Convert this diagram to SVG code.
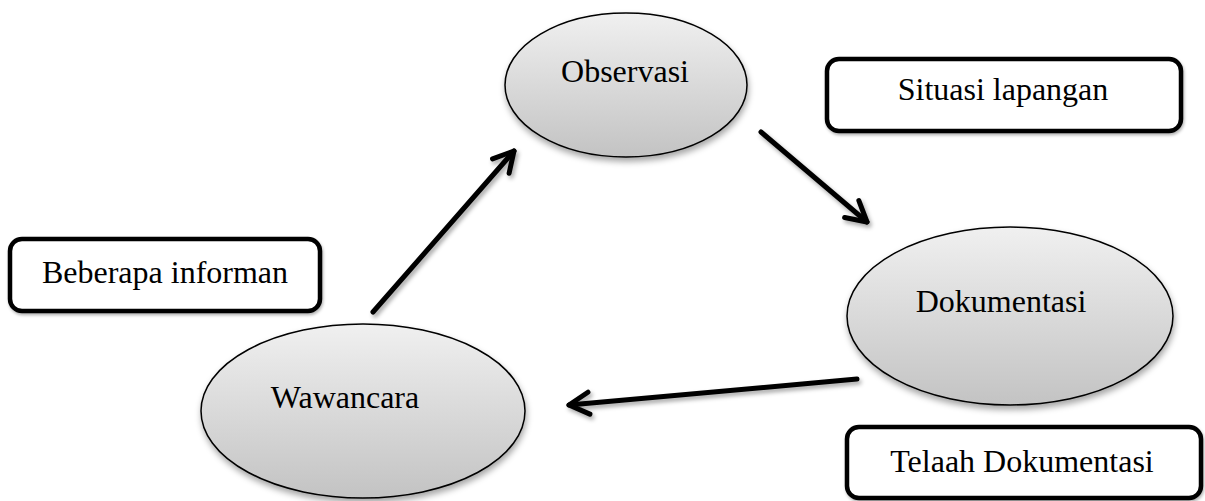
<svg xmlns="http://www.w3.org/2000/svg" width="1205" height="501" viewBox="0 0 1205 501">
  <style>
    .lbl { font-family: "Liberation Serif", "Times New Roman", serif; font-size: 32px; fill: #000; text-anchor: middle; }
    .ell { fill: url(#ellGrad); stroke: #000; stroke-width: 1.5; filter: url(#shadow); }
    .box { fill: #fff; stroke: #000; stroke-width: 4.5; filter: url(#shadowSm); }
    .conn { stroke: #000; stroke-width: 5; stroke-linecap: round; fill: none; marker-end: url(#chev); }
  </style>
  <defs>
    <linearGradient id="ellGrad" x1="0" y1="0" x2="0" y2="1">
      <stop offset="0" stop-color="#f0f0f0"/>
      <stop offset="1" stop-color="#c3c3c3"/>
    </linearGradient>
    <filter id="shadow" x="-20%" y="-20%" width="140%" height="150%">
      <feDropShadow dx="1" dy="4" stdDeviation="3" flood-color="#000" flood-opacity="0.35"/>
    </filter>
    <filter id="shadowSm" x="-10%" y="-20%" width="120%" height="150%">
      <feDropShadow dx="1" dy="2" stdDeviation="1.5" flood-color="#000" flood-opacity="0.3"/>
    </filter>
    <filter id="shadowArr" x="-20%" y="-20%" width="140%" height="140%">
      <feDropShadow dx="2" dy="3" stdDeviation="2" flood-color="#000" flood-opacity="0.35"/>
    </filter>
    <marker id="chev" markerUnits="userSpaceOnUse" viewBox="-30 -20 40 40" refX="0" refY="0" markerWidth="40" markerHeight="40" orient="auto">
      <path d="M-20,-11 L0,0 L-20,11" fill="none" stroke="#000" stroke-width="5" stroke-linecap="round" stroke-linejoin="round"/>
    </marker>
  </defs>

  <g id="connectors" filter="url(#shadowArr)">
    <line class="conn" x1="373" y1="312" x2="514" y2="151"/>
    <line class="conn" x1="761" y1="132" x2="867" y2="222"/>
    <line class="conn" x1="857" y1="379" x2="569" y2="405"/>
  </g>

  <g id="node-observasi">
    <ellipse class="ell" cx="626" cy="85" rx="121" ry="72"/>
    <text class="lbl" x="625" y="82">Observasi</text>
  </g>

  <g id="node-dokumentasi">
    <ellipse class="ell" cx="1010" cy="316" rx="163" ry="89"/>
    <text class="lbl" x="1001" y="312">Dokumentasi</text>
  </g>

  <g id="node-wawancara">
    <ellipse class="ell" cx="363" cy="411" rx="162" ry="87"/>
    <text class="lbl" x="345" y="408">Wawancara</text>
  </g>

  <g id="node-beberapa-informan">
    <rect class="box" x="10" y="239" width="310" height="72" rx="12" ry="12"/>
    <text class="lbl" x="165" y="283">Beberapa informan</text>
  </g>

  <g id="node-situasi-lapangan">
    <rect class="box" x="827" y="59" width="354" height="72" rx="12" ry="12"/>
    <text class="lbl" x="1003" y="100">Situasi lapangan</text>
  </g>

  <g id="node-telaah-dokumentasi">
    <rect class="box" x="847" y="427" width="354" height="71" rx="12" ry="12"/>
    <text class="lbl" x="1022" y="472">Telaah Dokumentasi</text>
  </g>
</svg>
